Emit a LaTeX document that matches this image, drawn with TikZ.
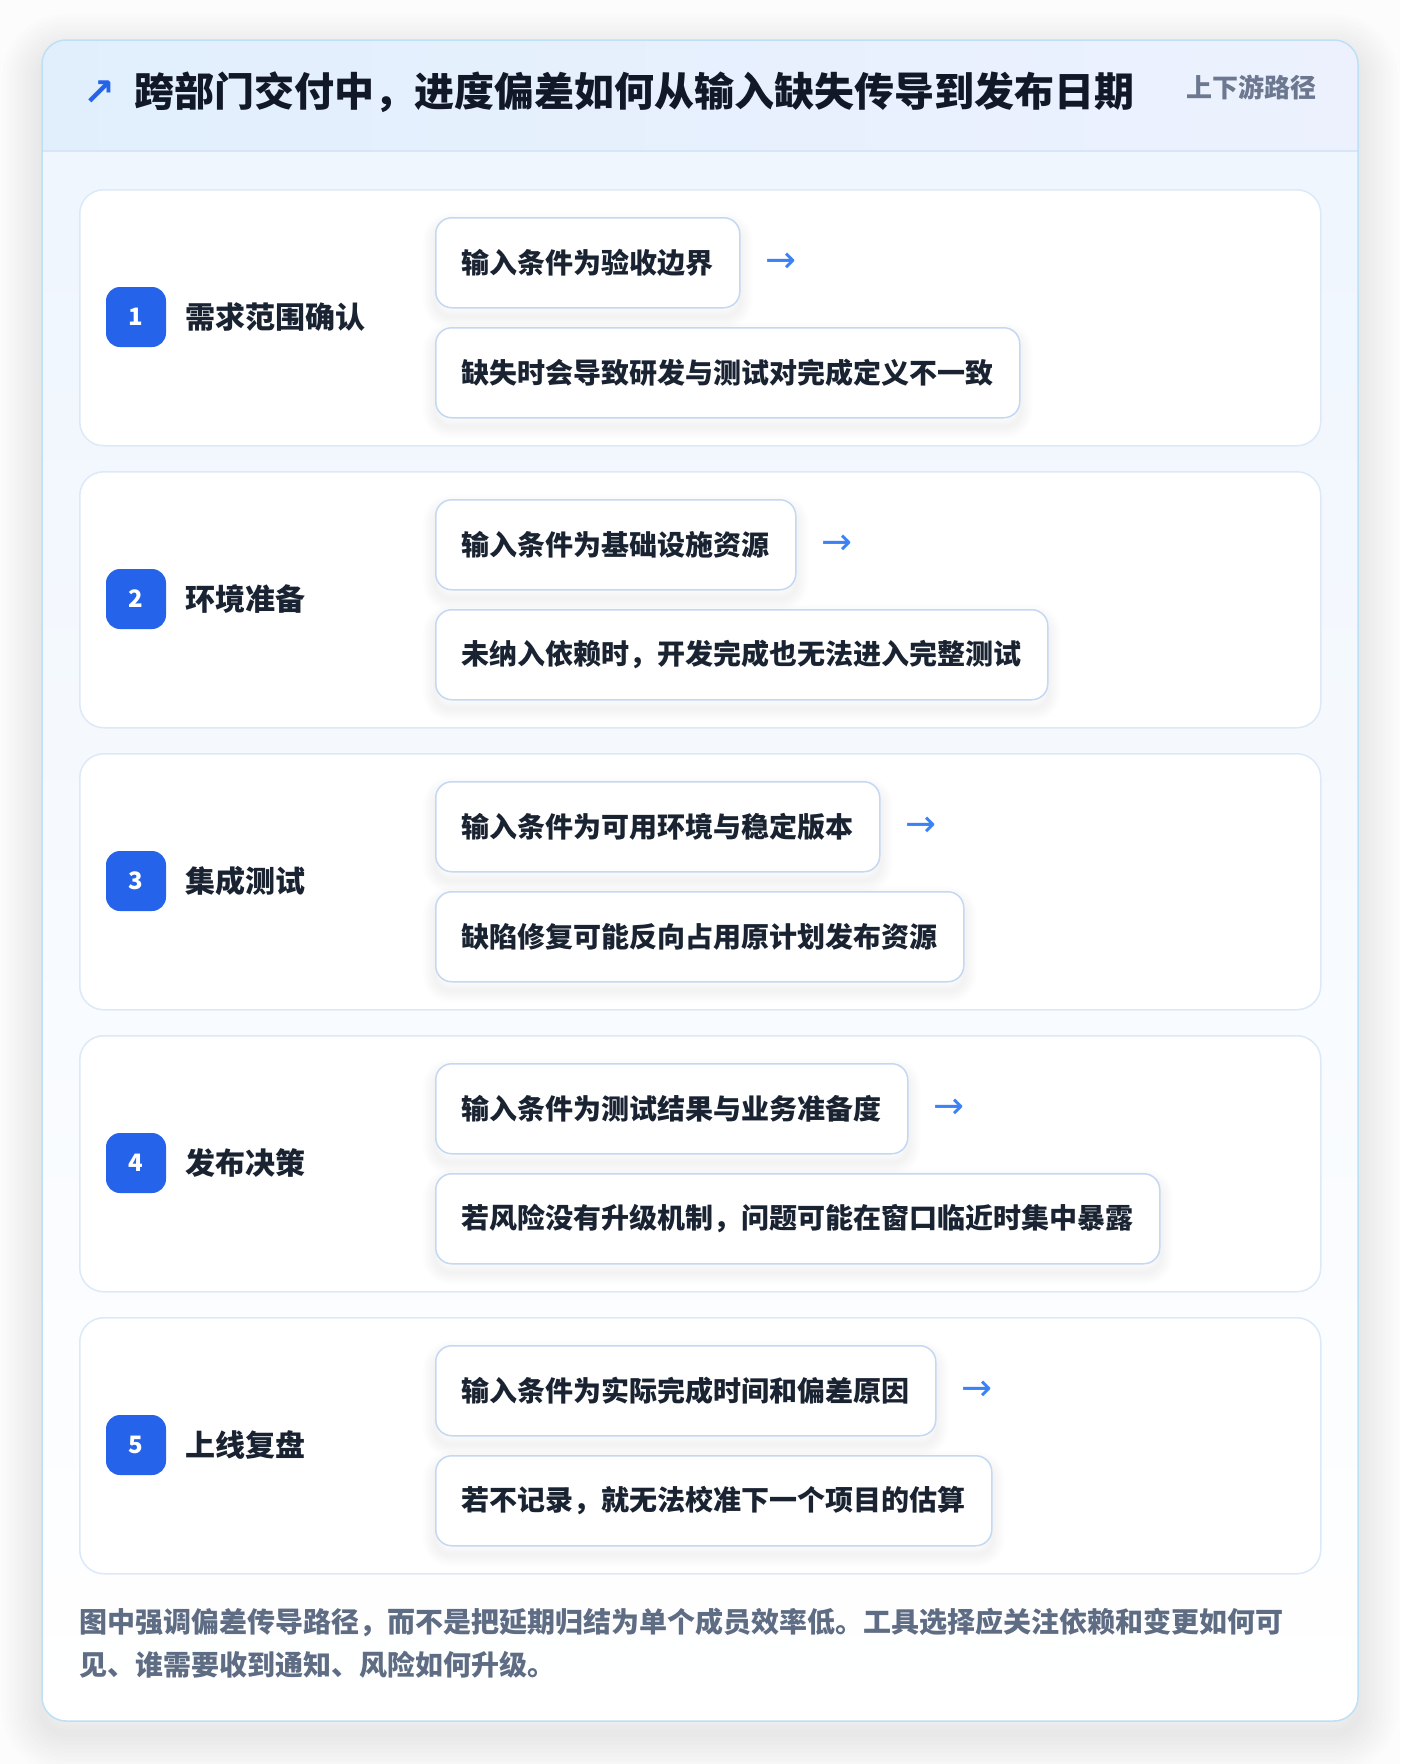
\documentclass[tikz,border=0pt]{standalone}
\usepackage{fontspec}
\setmainfont{Noto Sans CJK SC}
\newfontfamily\dvfont{DejaVu Sans}
\usetikzlibrary{calc}
\definecolor{pagebg}{HTML}{FCFCFD}
\definecolor{titlec}{HTML}{111827}
\definecolor{textdark}{HTML}{1A2332}
\definecolor{badgec}{HTML}{2563EB}
\definecolor{arrowc}{HTML}{3B82F6}
\definecolor{boxborder}{HTML}{C3D8F3}
\definecolor{rowborder}{HTML}{DCE9F8}
\definecolor{cardborder}{HTML}{BEE0F5}
\definecolor{hdrL}{HTML}{E1EFFD}
\definecolor{hdrR}{HTML}{EDF1FE}
\definecolor{hdrline}{HTML}{D6E6F8}
\definecolor{bodytop}{HTML}{EEF5FE}
\definecolor{footc}{HTML}{5E6C84}
\definecolor{subc}{HTML}{6B7890}
\newcommand\myfs[1]{\fontsize{#1}{#1}\selectfont}
\pgfdeclarelayer{bgl}\pgfdeclarelayer{rowl}\pgfdeclarelayer{shadl}
\pgfsetlayers{bgl,rowl,shadl,main}
\tikzset{
  rowcard/.style={draw=rowborder, fill=white, line width=1.5, rounded corners=24, inner sep=0, minimum width=1241, minimum height=256},
  badge/.style={fill=badgec, rounded corners=14, minimum size=60, inner sep=0, text=white, font=\bfseries\myfs{24}},
  rowlabel/.style={inner sep=0, text=textdark, font=\bfseries\myfs{30}},
  stepbox/.style={draw=boxborder, fill=white, line width=1.5, rounded corners=16, inner xsep=26, inner ysep=0, minimum height=90, text=textdark, font=\bfseries\myfs{28}},
  arrowtxt/.style={inner sep=0, text=arrowc, font=\dvfont\myfs{37}},
  foottxt/.style={inner sep=0, text=footc, font=\bfseries\myfs{28}},
}
\begin{document}
\begin{tikzpicture}[x=1pt,y=-1pt]
\useasboundingbox (0,0) rectangle (1400,1764);
\begin{pgfonlayer}{bgl}
\fill[pagebg] (0,0) rectangle (1400,1764);
\foreach \k in {1,...,10} \draw[black, opacity=0.006, line width=\k*8, rounded corners=24] (42,54) rectangle (1358,1733);
\shade[rounded corners=24, top color=bodytop, bottom color=white] (42,40) rectangle (1358,1721);
\begin{scope}
\clip[rounded corners=24] (42,40) rectangle (1358,1721);
\shade[left color=hdrL, right color=hdrR] (42,40) rectangle (1358,151);
\end{scope}
\draw[hdrline, line width=1.5] (42,151) -- (1358,151);
\draw[cardborder, line width=1.5, rounded corners=24] (42,40) rectangle (1358,1721);
\end{pgfonlayer}

\node[inner sep=0, text=badgec, font=\dvfont\bfseries\myfs{38}] (tarrow) at (99,93) {↗};
\node[anchor=west, inner sep=0, text=titlec, font=\bfseries\myfs{40}] (title) at (134,92) {跨部门交付中，进度偏差如何从输入缺失传导到发布日期};
\node[anchor=east, inner sep=0, text=subc, font=\bfseries\myfs{26}] (sub) at (1317,87) {上下游路径};

\foreach \i/\lab/\ta/\tb in {
  1/需求范围确认/输入条件为验收边界/缺失时会导致研发与测试对完成定义不一致,
  2/环境准备/输入条件为基础设施资源/未纳入依赖时，开发完成也无法进入完整测试,
  3/集成测试/输入条件为可用环境与稳定版本/缺陷修复可能反向占用原计划发布资源,
  4/发布决策/输入条件为测试结果与业务准备度/若风险没有升级机制，问题可能在窗口临近时集中暴露,
  5/上线复盘/输入条件为实际完成时间和偏差原因/若不记录，就无法校准下一个项目的估算} {
  \pgfmathsetmacro\ry{189+(\i-1)*282}
  \begin{pgfonlayer}{rowl}
  \node[rowcard, anchor=north west] (row\i) at (79,\ry) {};
  \end{pgfonlayer}
  \node[badge] (badge\i) at (136,{\ry+128}) {\i};
  \node[rowlabel, anchor=west] (lab\i) at (185,{\ry+128}) {\lab};
  \node[stepbox, anchor=north west] (a\i) at (435,{\ry+28}) {\ta};
  \node[stepbox, anchor=north west] (b\i) at (435,{\ry+138}) {\tb};
  \node[arrowtxt, anchor=west] (arr\i) at ($(a\i.east)+(25,0)$) {→};
  \begin{pgfonlayer}{shadl}
  \foreach \k in {1,...,6} {
    \draw[black, opacity=0.008, line width=\k*4, rounded corners=16] ($(a\i.north west)+(0,8)$) rectangle ($(a\i.south east)+(0,8)$);
    \draw[black, opacity=0.008, line width=\k*4, rounded corners=16] ($(b\i.north west)+(0,8)$) rectangle ($(b\i.south east)+(0,8)$);
  }
  \end{pgfonlayer}
}

\node[foottxt, anchor=west] (foot1) at (79,1622) {图中强调偏差传导路径，而不是把延期归结为单个成员效率低。工具选择应关注依赖和变更如何可};
\node[foottxt, anchor=west] (foot2) at (79,1665) {见、谁需要收到通知、风险如何升级。};
\end{tikzpicture}
\end{document}
